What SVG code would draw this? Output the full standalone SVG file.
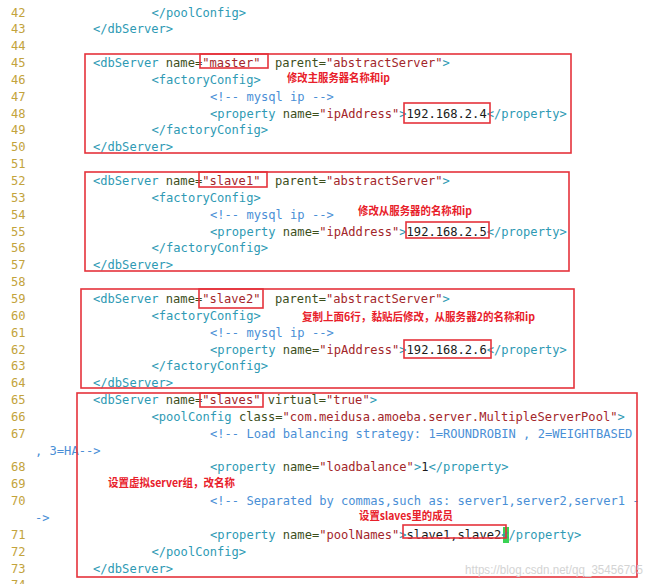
<svg xmlns="http://www.w3.org/2000/svg" width="650" height="584" viewBox="0 0 650 584">
<style>
.c{font-family:"DejaVu Sans Mono","Liberation Mono",monospace;font-size:12.1px;white-space:pre}
.n{fill:#c3a33c}
.t{fill:#2e9ab4}
.a{fill:#3d4f1c}
.v{fill:#a3262a}
.k{fill:#4a8fd6}
.x{fill:#1a1a1a}
.box{fill:none;stroke:#e5323b;stroke-width:1.6}
.ann{font-family:"Noto Sans CJK SC","Noto Sans",sans-serif;font-size:11px;font-weight:bold;fill:#e8202a}
.wm{font-family:"Liberation Sans",Arial,sans-serif;font-size:12px;fill:#d4d4d4}
</style>
<rect width="650" height="584" fill="#ffffff"/>
<rect x="503" y="527" width="6" height="16" fill="#39d353"/>
<g id="linenumbers" class="c n">
<text x="11" y="16.5">42</text><text x="11" y="33.35">43</text><text x="11" y="50.2">44</text><text x="11" y="67.05">45</text>
<text x="11" y="83.9">46</text><text x="11" y="100.75">47</text><text x="11" y="117.6">48</text><text x="11" y="134.45">49</text>
<text x="11" y="151.3">50</text><text x="11" y="168.15">51</text><text x="11" y="185">52</text><text x="11" y="201.85">53</text>
<text x="11" y="218.7">54</text><text x="11" y="235.55">55</text><text x="11" y="252.4">56</text><text x="11" y="269.25">57</text>
<text x="11" y="286.1">58</text><text x="11" y="302.95">59</text><text x="11" y="319.8">60</text><text x="11" y="336.65">61</text>
<text x="11" y="353.5">62</text><text x="11" y="370.35">63</text><text x="11" y="387.2">64</text><text x="11" y="404.05">65</text>
<text x="11" y="420.9">66</text><text x="11" y="437.75">67</text><text x="11" y="471.45">68</text><text x="11" y="488.3">69</text>
<text x="11" y="505.15">70</text><text x="11" y="538.85">71</text><text x="11" y="555.7">72</text><text x="11" y="572.55">73</text>
<text x="11" y="589.4">74</text>
</g>
<g id="code" class="c">
<text x="151.5" y="16.5"><tspan class="t">&lt;/poolConfig&gt;</tspan></text>
<text x="93" y="33.35"><tspan class="t">&lt;/dbServer&gt;</tspan></text>
<text x="93" y="67.05"><tspan class="t">&lt;dbServer&#160;</tspan><tspan class="a">name=</tspan><tspan class="v">"master"</tspan><tspan class="a">&#160;&#160;parent=</tspan><tspan class="v">"abstractServer"</tspan><tspan class="t">&gt;</tspan></text>
<text x="151.5" y="83.9"><tspan class="t">&lt;factoryConfig&gt;</tspan></text>
<text x="210" y="100.75"><tspan class="k">&lt;!--&#160;mysql&#160;ip&#160;--&gt;</tspan></text>
<text x="210" y="117.6"><tspan class="t">&lt;property&#160;</tspan><tspan class="a">name=</tspan><tspan class="v">"ipAddress"</tspan><tspan class="t">&gt;</tspan><tspan class="x">192.168.2.4</tspan><tspan class="t">&lt;/property&gt;</tspan></text>
<text x="151.5" y="134.45"><tspan class="t">&lt;/factoryConfig&gt;</tspan></text>
<text x="93" y="151.3"><tspan class="t">&lt;/dbServer&gt;</tspan></text>
<text x="93" y="185"><tspan class="t">&lt;dbServer&#160;</tspan><tspan class="a">name=</tspan><tspan class="v">"slave1"</tspan><tspan class="a">&#160;&#160;parent=</tspan><tspan class="v">"abstractServer"</tspan><tspan class="t">&gt;</tspan></text>
<text x="151.5" y="201.85"><tspan class="t">&lt;factoryConfig&gt;</tspan></text>
<text x="210" y="218.7"><tspan class="k">&lt;!--&#160;mysql&#160;ip&#160;--&gt;</tspan></text>
<text x="210" y="235.55"><tspan class="t">&lt;property&#160;</tspan><tspan class="a">name=</tspan><tspan class="v">"ipAddress"</tspan><tspan class="t">&gt;</tspan><tspan class="x">192.168.2.5</tspan><tspan class="t">&lt;/property&gt;</tspan></text>
<text x="151.5" y="252.4"><tspan class="t">&lt;/factoryConfig&gt;</tspan></text>
<text x="93" y="269.25"><tspan class="t">&lt;/dbServer&gt;</tspan></text>
<text x="93" y="302.95"><tspan class="t">&lt;dbServer&#160;</tspan><tspan class="a">name=</tspan><tspan class="v">"slave2"</tspan><tspan class="a">&#160;&#160;parent=</tspan><tspan class="v">"abstractServer"</tspan><tspan class="t">&gt;</tspan></text>
<text x="151.5" y="319.8"><tspan class="t">&lt;factoryConfig&gt;</tspan></text>
<text x="210" y="336.65"><tspan class="k">&lt;!--&#160;mysql&#160;ip&#160;--&gt;</tspan></text>
<text x="210" y="353.5"><tspan class="t">&lt;property&#160;</tspan><tspan class="a">name=</tspan><tspan class="v">"ipAddress"</tspan><tspan class="t">&gt;</tspan><tspan class="x">192.168.2.6</tspan><tspan class="t">&lt;/property&gt;</tspan></text>
<text x="151.5" y="370.35"><tspan class="t">&lt;/factoryConfig&gt;</tspan></text>
<text x="93" y="387.2"><tspan class="t">&lt;/dbServer&gt;</tspan></text>
<text x="93" y="404.05"><tspan class="t">&lt;dbServer&#160;</tspan><tspan class="a">name=</tspan><tspan class="v">"slaves"</tspan><tspan class="a">&#160;virtual=</tspan><tspan class="v">"true"</tspan><tspan class="t">&gt;</tspan></text>
<text x="151.5" y="420.9"><tspan class="t">&lt;poolConfig&#160;</tspan><tspan class="a">class=</tspan><tspan class="v">"com.meidusa.amoeba.server.MultipleServerPool"</tspan><tspan class="t">&gt;</tspan></text>
<text x="210" y="437.75"><tspan class="k">&lt;!--&#160;Load&#160;balancing&#160;strategy:&#160;1=ROUNDROBIN&#160;,&#160;2=WEIGHTBASED</tspan></text>
<text x="35" y="454.6"><tspan class="k">,&#160;3=HA--&gt;</tspan></text>
<text x="210" y="471.45"><tspan class="t">&lt;property&#160;</tspan><tspan class="a">name=</tspan><tspan class="v">"loadbalance"</tspan><tspan class="t">&gt;</tspan><tspan class="x">1</tspan><tspan class="t">&lt;/property&gt;</tspan></text>
<text x="210" y="505.15"><tspan class="k">&lt;!--&#160;Separated&#160;by&#160;commas,such&#160;as:&#160;server1,server2,server1&#160;-</tspan></text>
<text x="35" y="522"><tspan class="k">-&gt;</tspan></text>
<text x="210" y="538.85"><tspan class="t">&lt;property&#160;</tspan><tspan class="a">name=</tspan><tspan class="v">"poolNames"</tspan><tspan class="t">&gt;</tspan><tspan class="x">slave1,slave2</tspan><tspan class="t">&lt;/property&gt;</tspan></text>
<text x="151.5" y="555.7"><tspan class="t">&lt;/poolConfig&gt;</tspan></text>
<text x="93" y="572.55"><tspan class="t">&lt;/dbServer&gt;</tspan></text>
</g>
<g id="master-block">
<rect class="box" x="85" y="54" width="486" height="99"/>
<rect class="box" x="200" y="54" width="68" height="14"/>
<rect class="box" x="404" y="103" width="86" height="20"/>
<text class="ann" x="287" y="82" textLength="103" lengthAdjust="spacingAndGlyphs">修改主服务器名称和ip</text>
</g>
<g id="slave1-block">
<rect class="box" x="85" y="172" width="484" height="99"/>
<rect class="box" x="199" y="172" width="68" height="15"/>
<rect class="box" x="406" y="222" width="83" height="16"/>
<text class="ann" x="358" y="215" textLength="114" lengthAdjust="spacingAndGlyphs">修改从服务器的名称和ip</text>
</g>
<g id="slave2-block">
<rect class="box" x="81" y="289" width="493" height="99"/>
<rect class="box" x="199" y="289" width="64" height="19"/>
<rect class="box" x="404" y="340" width="87" height="18"/>
<text class="ann" x="302" y="321" textLength="233" lengthAdjust="spacingAndGlyphs">复制上面6行，黏贴后修改，从服务器2的名称和ip</text>
</g>
<g id="slaves-block">
<rect class="box" x="77" y="393" width="560" height="184"/>
<rect class="box" x="200" y="393" width="63" height="14"/>
<rect class="box" x="403" y="525" width="103" height="13"/>
<text class="ann" x="108" y="487" textLength="127" lengthAdjust="spacingAndGlyphs">设置虚拟server组，改名称</text>
<text class="ann" x="359" y="519.5" font-size="10.5" textLength="94" lengthAdjust="spacingAndGlyphs">设置slaves里的成员</text>
</g>
<text class="wm" x="465" y="574" textLength="178" lengthAdjust="spacingAndGlyphs">https://blog.csdn.net/qq_35456705</text>
</svg>
